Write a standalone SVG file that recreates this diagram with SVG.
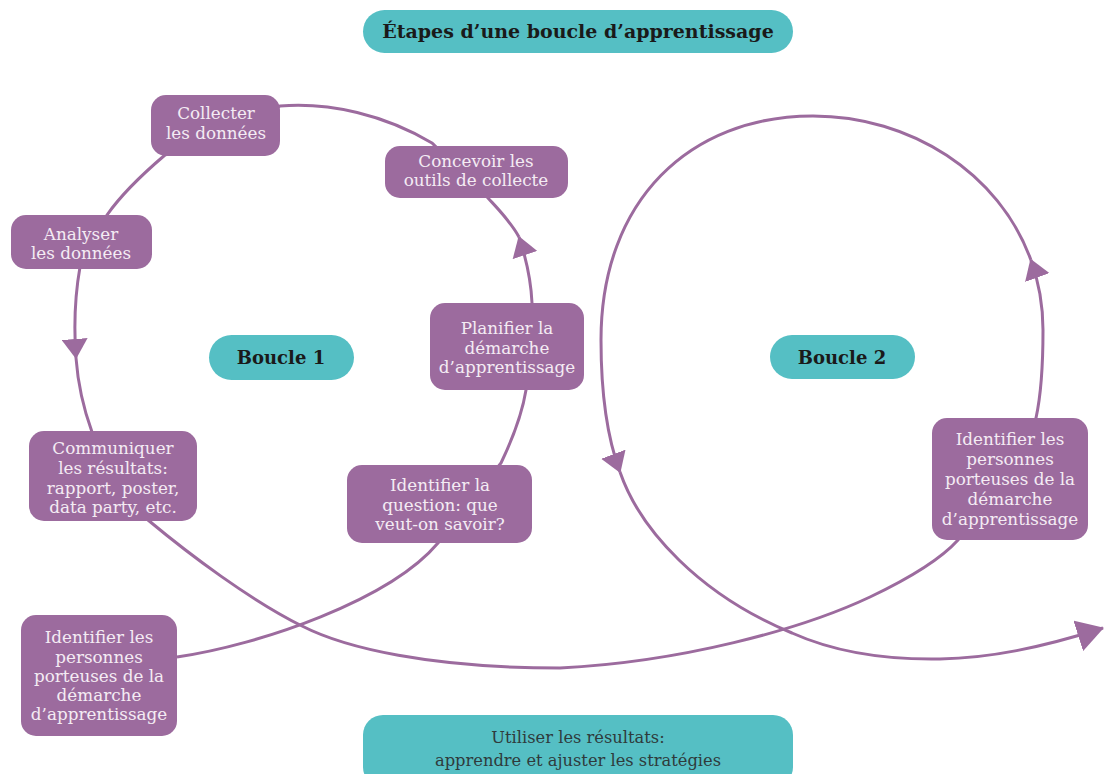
<svg xmlns="http://www.w3.org/2000/svg" width="1110" height="774" viewBox="0 0 1110 774">
<style>
.node rect{fill:#9C6B9E;}
.node text{fill:#F4EBF4;font-family:"DejaVu Serif","Liberation Serif",serif;font-size:16.8px;text-anchor:middle;}
.pill rect{fill:#55BFC4;}
.pill text{fill:#1A1A1A;font-family:"DejaVu Serif","Liberation Serif",serif;font-weight:bold;text-anchor:middle;}
.pill text.ft{fill:#2F3B3C;font-weight:normal;font-size:16.3px;}
.link{fill:none;stroke:#9C6B9E;stroke-width:3;}
</style>
<defs>
<marker id="arr" markerUnits="userSpaceOnUse" markerWidth="20" markerHeight="26" refX="19" refY="13" orient="auto">
<path d="M0,0 L20,13 L0,26 Z" fill="#9C6B9E"/>
</marker>
<marker id="arrBig" markerUnits="userSpaceOnUse" markerWidth="27" markerHeight="32" refX="26" refY="16" orient="auto">
<path d="M0,0 L27,16 L0,32 Z" fill="#9C6B9E"/>
</marker>
</defs>
<rect width="1110" height="774" fill="#FFFFFF"/>
<g id="connectors">
<path class="link" d="M177,657 C260,645 390,600 438,543 L501,463 C512,440 522,415 526,390 L532,303 C531,280 526,258 519,237" marker-end="url(#arr)"/>
<path class="link" d="M519,237 C511,222 499,210 488,198 L432,143 C385,115 330,102 280,106 L165,155 C145,172 123,192 107,215 L80,267 C75,295 74,330 76,358" marker-end="url(#arr)"/>
<path class="link" d="M76,358 C78,385 84,410 92,432 L148,520 C190,555 250,600 302,626 C345,648 430,668 560,668 C680,662 800,630 870,597 C910,578 940,560 958,540 L1036,418 C1041,395 1043,360 1043,330 C1043,305 1038.7,281.4 1030.8,259.7" marker-end="url(#arr)"/>
<path class="link" d="M1030.8,259.7 C999.2,173 910.6,116 813,116 C690,116 601,200 601,340 C601,395 608,440 620,472" marker-end="url(#arr)"/>
<path class="link" d="M620,472 C640,530 700,595 792,633 C830,650 880,660 940,659 C990,658 1040,648 1103,628" marker-end="url(#arrBig)"/>
</g>
<g id="title" class="pill">
<rect x="363" y="10" width="430" height="43" rx="21.5"/>
<text x="578" y="38" font-size="19">Étapes d’une boucle d’apprentissage</text>
</g>
<g id="boucle1" class="pill">
<rect x="209" y="335" width="145" height="45" rx="22.5"/>
<text x="281" y="364" font-size="18">Boucle 1</text>
</g>
<g id="boucle2" class="pill">
<rect x="770" y="335" width="145" height="44" rx="22"/>
<text x="842" y="364" font-size="18">Boucle 2</text>
</g>
<g id="collecter" class="node">
<rect x="151" y="95" width="129" height="61" rx="15"/>
<text x="216" y="119">Collecter</text>
<text x="216" y="139">les données</text>
</g>
<g id="concevoir" class="node">
<rect x="385" y="146" width="183" height="52" rx="15"/>
<text x="476" y="167">Concevoir les</text>
<text x="476" y="186">outils de collecte</text>
</g>
<g id="analyser" class="node">
<rect x="11" y="215" width="141" height="54" rx="15"/>
<text x="81" y="240">Analyser</text>
<text x="81" y="259">les données</text>
</g>
<g id="planifier" class="node">
<rect x="430" y="303" width="154" height="87" rx="15"/>
<text x="507" y="334">Planifier la</text>
<text x="507" y="354">démarche</text>
<text x="507" y="373">d’apprentissage</text>
</g>
<g id="communiquer" class="node">
<rect x="29" y="431" width="168" height="90" rx="15"/>
<text x="113" y="454">Communiquer</text>
<text x="113" y="474">les résultats:</text>
<text x="113" y="494">rapport, poster,</text>
<text x="113" y="513">data party, etc.</text>
</g>
<g id="question" class="node">
<rect x="347" y="465" width="185" height="78" rx="15"/>
<text x="440" y="491">Identifier la</text>
<text x="440" y="511">question: que</text>
<text x="440" y="530">veut-on savoir?</text>
</g>
<g id="personnes1" class="node">
<rect x="21" y="615" width="156" height="121" rx="15"/>
<text x="99" y="643">Identifier les</text>
<text x="99" y="663">personnes</text>
<text x="99" y="682">porteuses de la</text>
<text x="99" y="701">démarche</text>
<text x="99" y="720">d’apprentissage</text>
</g>
<g id="personnes2" class="node">
<rect x="932" y="418" width="156" height="122" rx="15"/>
<text x="1010" y="445">Identifier les</text>
<text x="1010" y="465">personnes</text>
<text x="1010" y="485">porteuses de la</text>
<text x="1010" y="505">démarche</text>
<text x="1010" y="525">d’apprentissage</text>
</g>
<g id="utiliser" class="pill">
<rect x="363" y="715" width="430" height="72" rx="20"/>
<text class="ft" x="578" y="743">Utiliser les résultats:</text>
<text class="ft" x="578" y="766">apprendre et ajuster les stratégies</text>
</g>
</svg>
